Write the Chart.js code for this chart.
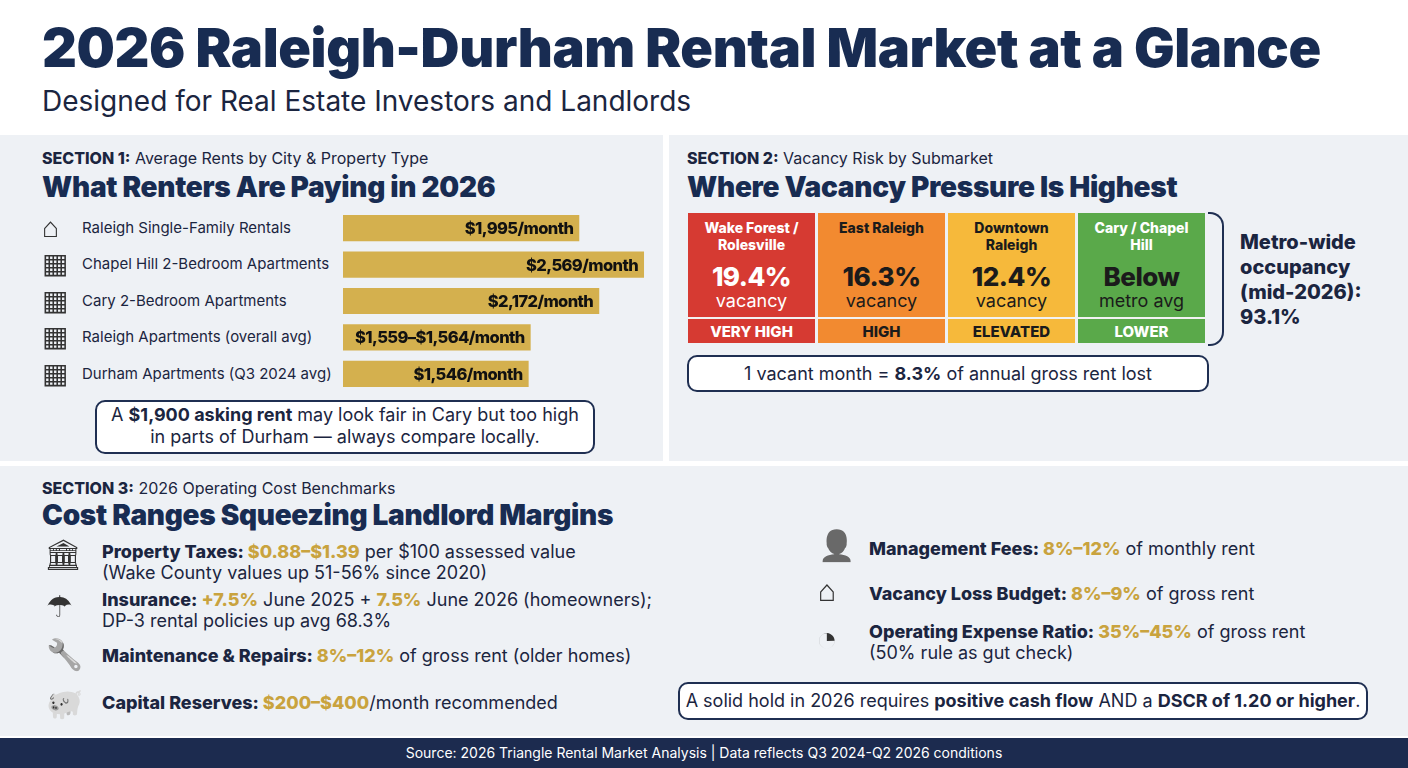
<!DOCTYPE html>
<html><head><meta charset="utf-8">
<script src="https://cdn.jsdelivr.net/npm/chart.js@4.4.1/dist/chart.umd.min.js"></script>
<style>
body{margin:0;width:1408px;height:768px;background:#fff;font-family:Inter,"Noto Sans",sans-serif;color:#1b2540;position:relative;overflow:hidden}
.abs{position:absolute}
.panel{position:absolute;background:#eef1f5}
h1{position:absolute;left:42px;top:15px;margin:0;font-size:54px;font-weight:900;color:#182c52;letter-spacing:-0.4px}
.sub{left:42px;top:84px;font-size:28px;color:#1b2540}
.sec{font-size:16px}
.sec b{font-weight:800}
.h2{font-size:28px;font-weight:900;color:#182c52;letter-spacing:-0.3px}
.lbl{font-size:15px;left:82px}
.box{border:2px solid #1f2f52;border-radius:10px;background:#fff;text-align:center}
.tile{position:absolute;top:213px;width:127px;height:130px;text-align:center}
.tile .n{font-size:14px;font-weight:800;margin-top:6px;line-height:17px;height:36px}
.tile .p{font-size:26px;font-weight:800;margin-top:8px;line-height:28px;letter-spacing:-0.5px}
.tile .v{font-size:18px;line-height:20px}
.tile .r{position:absolute;left:0;right:0;top:104px;height:26px;line-height:26px;font-size:15px;font-weight:800;border-top:2px solid #f2f2f2}
.cost{font-size:18px;line-height:21px}
.cost b{font-weight:800}
.g{color:#c9a33e;font-weight:800}
.ico{font-size:30px;color:#333;filter:grayscale(1)}
</style></head><body>
<h1>2026 Raleigh-Durham Rental Market at a Glance</h1>
<div class="abs sub">Designed for Real Estate Investors and Landlords</div>

<div class="panel" style="left:0;top:135px;width:663px;height:326px"></div>
<div class="panel" style="left:669px;top:135px;width:739px;height:326px"></div>
<div class="panel" style="left:0;top:466px;width:1408px;height:270px"></div>
<div class="abs" style="left:0;top:738px;width:1408px;height:30px;background:#1c2b4f;color:#fff;font-size:14px;text-align:center;line-height:30px">Source: 2026 Triangle Rental Market Analysis | Data reflects Q3 2024-Q2 2026 conditions</div>

<div class="abs sec" style="left:42px;top:148px"><b>SECTION 1:</b> Average Rents by City &amp; Property Type</div>
<div class="abs h2" style="left:42px;top:170px">What Renters Are Paying in 2026</div>
<div id="labels"></div>
<div class="abs" style="left:343px;top:210px;width:307px;height:182px"><canvas id="rent"></canvas></div>
<div class="abs box" style="left:95px;top:400px;width:496px;height:48px;font-size:18px;line-height:22px;padding-top:2px">A <b>$1,900 asking rent</b> may look fair in Cary but too high<br>in parts of Durham — always compare locally.</div>

<div class="abs sec" style="left:687px;top:148px"><b>SECTION 2:</b> Vacancy Risk by Submarket</div>
<div class="abs h2" style="left:687px;top:170px">Where Vacancy Pressure Is Highest</div>
<div id="tiles"></div>
<div class="abs" style="left:1208px;top:212px;width:14px;height:130px;border:2px solid #1f2f52;border-left:none;border-radius:0 14px 14px 0"></div>
<div class="abs" style="left:1240px;top:230px;font-size:20px;font-weight:800;line-height:25px">Metro-wide<br>occupancy<br>(mid-2026):<br>93.1%</div>
<div class="abs box" style="left:687px;top:355px;width:518px;height:33px;line-height:33px;font-size:18px">1 vacant month = <b>8.3%</b> of annual gross rent lost</div>

<div class="abs sec" style="left:42px;top:478px"><b>SECTION 3:</b> 2026 Operating Cost Benchmarks</div>
<div class="abs h2" style="left:42px;top:498px">Cost Ranges Squeezing Landlord Margins</div>
<div class="abs ico" style="left:44px;top:536px">🏛</div>
<div class="abs cost" style="left:102px;top:541px"><b>Property Taxes: </b><span class="g">$0.88–$1.39</span> per $100 assessed value<br>(Wake County values up 51-56% since 2020)</div>
<div class="abs ico" style="left:46px;top:588px">☂</div>
<div class="abs cost" style="left:102px;top:589px"><b>Insurance: </b><span class="g">+7.5%</span> June 2025 + <span class="g">7.5%</span> June 2026 (homeowners);<br>DP-3 rental policies up avg 68.3%</div>
<div class="abs ico" style="left:46px;top:636px">🔧</div>
<div class="abs cost" style="left:102px;top:645px"><b>Maintenance &amp; Repairs: </b><span class="g">8%–12%</span> of gross rent (older homes)</div>
<div class="abs ico" style="left:46px;top:685px">🐖</div>
<div class="abs cost" style="left:102px;top:692px"><b>Capital Reserves: </b><span class="g">$200–$400</span>/month recommended</div>
<div class="abs ico" style="left:818px;top:527px">👤</div>
<div class="abs cost" style="left:869px;top:538px"><b>Management Fees: </b><span class="g">8%–12%</span> of monthly rent</div>
<div class="abs ico" style="left:818px;top:572px">⌂</div>
<div class="abs cost" style="left:869px;top:583px"><b>Vacancy Loss Budget: </b><span class="g">8%–9%</span> of gross rent</div>
<div class="abs ico" style="left:816px;top:616px;font-size:36px">◔</div>
<div class="abs cost" style="left:869px;top:621px"><b>Operating Expense Ratio: </b><span class="g">35%–45%</span> of gross rent<br>(50% rule as gut check)</div>
<div class="abs box" style="left:678px;top:682px;width:686px;height:34px;line-height:34px;font-size:18px">A solid hold in 2026 requires <b>positive cash flow</b> AND a <b>DSCR of 1.20 or higher</b>.</div>

<script>
// section 1 data
const categorias = ['Raleigh Single-Family Rentals','Chapel Hill 2-Bedroom Apartments','Cary 2-Bedroom Apartments','Raleigh Apartments (overall avg)','Durham Apartments (Q3 2024 avg)']
const icones = ['⌂','▦','▦','▦','▦']
const aluguel = [1995, 2569, 2172, 1564, 1546]
const rotulos = ['$1,995/month','$2,569/month','$2,172/month','$1,559–$1,564/month','$1,546/month']

// section 2 data
const submercados = ['Wake Forest /<br>Rolesville','East Raleigh','Downtown<br>Raleigh','Cary / Chapel<br>Hill']
const vacancia = ['19.4%','16.3%','12.4%','Below']
const vacanciaSub = ['vacancy','vacancy','vacancy','metro avg']
const risco = ['VERY HIGH','HIGH','ELEVATED','LOWER']
const coresRisco = ['#d63a32','#f28a30','#f6b93b','#5aa94a']
const textoRisco = ['#fff','#1b1b1b','#1b1b1b','#fff']

let html = ''
categorias.forEach((c, i) => {
  const y = 228 + i * 36.4
  html += `<div class="abs ico" style="left:42px;top:${y-18}px;font-size:28px;line-height:34px">${icones[i]}</div>`
  html += `<div class="abs lbl" style="top:${y-10}px">${c}</div>`
})
document.getElementById('labels').innerHTML = html

html = ''
submercados.forEach((s, i) => {
  const cor = textoRisco[i]
  const pc = i == 3 ? '#1b1b1b' : cor
  html += `<div class="tile" style="left:${688 + i*130}px;background:${coresRisco[i]};color:${cor}">
    <div class="n">${s}</div>
    <div class="p" style="color:${pc}">${vacancia[i]}</div><div class="v" style="color:${pc}">${vacanciaSub[i]}</div>
    <div class="r">${risco[i]}</div></div>`
})
document.getElementById('tiles').innerHTML = html

const rotuloPlugin = {
  id: 'rotulo',
  afterDatasetsDraw(chart) {
    const ctx = chart.ctx
    ctx.save()
    ctx.font = '800 16.5px Inter'
    ctx.letterSpacing = '-0.6px'
    ctx.fillStyle = '#111'
    ctx.textAlign = 'right'
    ctx.textBaseline = 'middle'
    chart.getDatasetMeta(0).data.forEach((bar, i) => {
      ctx.fillText(rotulos[i], bar.x - 6, bar.y + 1)
    })
    ctx.restore()
  }
}

new Chart(document.getElementById('rent'), {
  type: 'bar',
  data: {
    labels: categorias,
    datasets: [{
      data: aluguel,
      base: -100,
      backgroundColor: '#d4b04e',
      barPercentage: 0.72,
      categoryPercentage: 1
    }]
  },
  options: {
    indexAxis: 'y',
    responsive: true,
    maintainAspectRatio: false,
    animation: false,
    layout: { padding: 0 },
    plugins: { legend: { display: false }, tooltip: { enabled: false } },
    scales: {
      x: { min: -100, max: 2622, display: false },
      y: { display: false }
    }
  },
  plugins: [rotuloPlugin]
})
</script>
</body></html>
